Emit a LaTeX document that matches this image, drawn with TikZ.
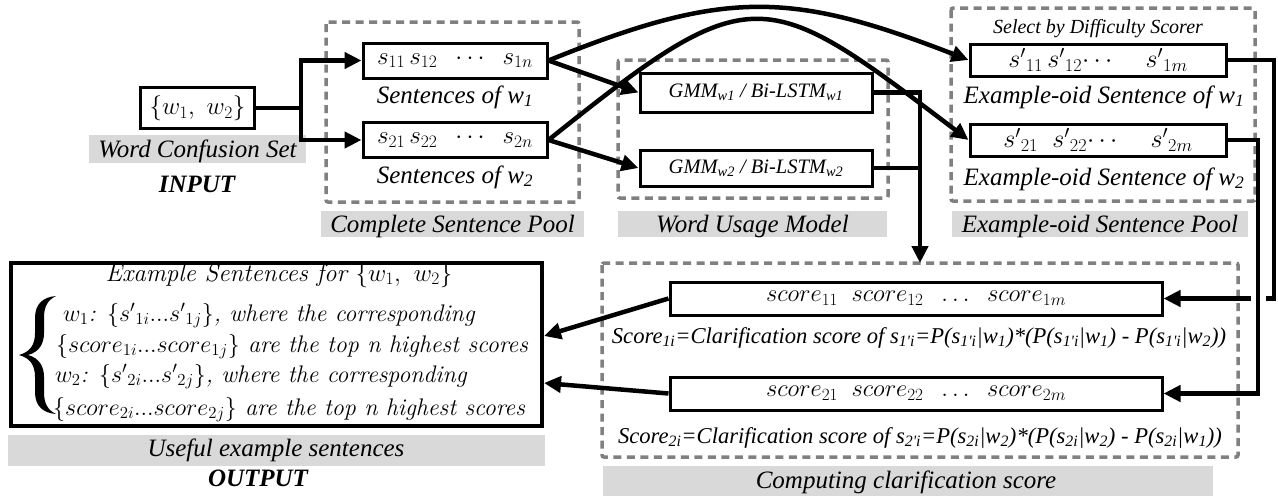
\RequirePackage{fix-cm}
\documentclass[tikz,border=0pt]{standalone}
\usepackage{fontspec}
\newfontfamily\tm{Liberation Serif}
\usetikzlibrary{arrows.meta,calc}
\definecolor{labgray}{RGB}{217,217,217}
\definecolor{dashgray}{RGB}{128,128,128}
\begin{document}
\begin{tikzpicture}[x=1pt,y=-1pt,
  box/.style={draw, line width=3pt, inner sep=0pt, fill=white},
  pool/.style={draw=dashgray, line width=3.5pt, dash pattern=on 8pt off 5.5pt, rounded corners=2pt},
  lbl/.style={inner sep=0pt, anchor=base, font=\tm\itshape\fontsize{25}{28}\selectfont},
  blbl/.style={lbl, font=\tm\bfseries\itshape\fontsize{25}{28}\selectfont},
  flbl/.style={lbl, font=\tm\itshape\fontsize{22.6}{26}\selectfont},
  otxt/.style={inner sep=0pt, anchor=base west, font=\itshape\fontsize{24}{27}\selectfont},
  mth/.style={box, font=\fontsize{25}{30}\selectfont},
  conn/.style={line width=4.5pt},
  arr/.style={conn, -{Triangle[length=17pt,width=16pt]}}]
\useasboundingbox (0,0) rectangle (1278,498);

% dashed pools
\draw[pool] (326,22) rectangle (579,202);
\draw[pool] (618,60) rectangle (888,198);
\draw[pool] (951,8) rectangle (1255,201);
\draw[pool] (602,263) rectangle (1238,457);

% gray label backgrounds
\fill[labgray] (89,135) rectangle (306,163);
\fill[labgray] (321,211) rectangle (584,237);
\fill[labgray] (618,211) rectangle (887,237);
\fill[labgray] (952,211) rectangle (1248,237);
\fill[labgray] (8,435) rectangle (545,466);
\fill[labgray] (603,466) rectangle (1213,496);

% boxes
\node[mth, minimum width=114pt, minimum height=41pt] (ws) at (197.5,108) {$\{w_1,\ w_2\}$};
\node[mth, minimum width=184pt, minimum height=35pt] (s1) at (455,60.5) {$s_{11}\,s_{12}\;\;\cdots\;\;s_{1n}$};
\node[mth, minimum width=184pt, minimum height=35pt] (s2) at (455,140) {$s_{21}\,s_{22}\;\;\cdots\;\;s_{2n}$};
\node[box, minimum width=232pt, minimum height=39pt, font=\tm\itshape\fontsize{20.5}{24}\selectfont] (g1) at (756,92.5) {GMM\textsubscript{w1} / Bi-LSTM\textsubscript{w1}};
\node[box, minimum width=232pt, minimum height=36pt, font=\tm\itshape\fontsize{20.5}{24}\selectfont] (g2) at (756,168) {GMM\textsubscript{w2} / Bi-LSTM\textsubscript{w2}};
\node[mth, minimum width=256pt, minimum height=32pt, font=\fontsize{26}{30}\selectfont] (e1) at (1098,60) {$s'{}_{11}\,s'{}_{12}{\cdots}\quad\;s'{}_{1m}$};
\node[mth, minimum width=256pt, minimum height=32pt, font=\fontsize{26}{30}\selectfont] (e2) at (1098,140) {$s'{}_{21}\;\;s'{}_{22}{\cdots}\quad\;s'{}_{2m}$};
\node[mth, minimum width=492pt, minimum height=33pt, font=\fontsize{24.5}{30}\selectfont] (c1) at (916,298.5) {$score_{11}\;\;score_{12}\;\;\ldots\;\;score_{1m}$};
\node[mth, minimum width=492pt, minimum height=33pt, font=\fontsize{24.5}{30}\selectfont] (c2) at (916,393.5) {$score_{21}\;\;score_{22}\;\;\ldots\;\;score_{2m}$};
\node[box, line width=4pt, minimum width=531pt, minimum height=163pt] (out) at (276.5,344.5) {};

% output box content
\node[otxt, anchor=base, font=\itshape\fontsize{25}{27}\selectfont\addfontfeatures{LetterSpace=17}] (ot) at (279,281) {Example\ Sentences\ for\ $\{w_1,\ w_2\}$};
\node[otxt] (l1) at (63,321) {$w_1$: $\{s'{}_{1i}...s'{}_{1j}\}$, where the corresponding};
\node[otxt] (l2) at (56,352) {$\{score_{1i}...score_{1j}\}$ are the top n highest scores};
\node[otxt] (l3) at (55,382) {$w_2$: $\{s'{}_{2i}...s'{}_{2j}\}$, where the corresponding};
\node[otxt] (l4) at (53,415) {$\{score_{2i}...score_{2j}\}$ are the top n highest scores};
% big curly brace
\fill (56,296) .. controls (43,297) and (35,304) .. (35,318) -- (35,333)
  .. controls (35,345) and (30,352) .. (19,355)
  .. controls (30,358) and (35,365) .. (35,377) -- (35,392)
  .. controls (35,406) and (43,413) .. (56,414)
  .. controls (48,410) and (44,404) .. (44,392) -- (44,377)
  .. controls (44,366) and (39,358) .. (28,355)
  .. controls (39,352) and (44,344) .. (44,333) -- (44,318)
  .. controls (44,306) and (48,300) .. (56,296) -- cycle;

% labels
\node[lbl] (wcs) at (197.5,157) {Word Confusion Set};
\node[blbl] (inp) at (197,192) {INPUT};
\node[lbl] (sl1) at (455,103) {Sentences of w\textsubscript{1}};
\node[lbl] (sl2) at (455,183) {Sentences of w\textsubscript{2}};
\node[lbl] (csp) at (452.5,232) {Complete Sentence Pool};
\node[lbl] (wum) at (752.5,232) {Word Usage Model};
\node[lbl, font=\tm\itshape\fontsize{20}{24}\selectfont] (sel) at (1098,33) {Select by Difficulty Scorer};
\node[lbl] (el1) at (1104,103) {Example-oid Sentence of w\textsubscript{1}};
\node[lbl] (el2) at (1104,185) {Example-oid Sentence of w\textsubscript{2}};
\node[lbl] (eop) at (1100,232) {Example-oid Sentence Pool};
\node[flbl] (f1) at (919,343) {Score\textsubscript{1i}=Clarification score of s\textsubscript{1'i}=P(s\textsubscript{1'i}|w\textsubscript{1})*(P(s\textsubscript{1'i}|w\textsubscript{1}) - P(s\textsubscript{1'i}|w\textsubscript{2}))};
\node[flbl] (f2) at (920,443) {Score\textsubscript{2i}=Clarification score of s\textsubscript{2'i}=P(s\textsubscript{2i}|w\textsubscript{2})*(P(s\textsubscript{2i}|w\textsubscript{2}) - P(s\textsubscript{2i}|w\textsubscript{1}))};
\node[lbl] (use) at (276,456) {Useful example sentences};
\node[blbl] (outp) at (258,486) {OUTPUT};
\node[lbl] (comp) at (906,488) {Computing clarification score};

% connectors
\coordinate (j) at (301,108);
\draw[conn] (ws.east) -- (j);
\draw[arr] (j) |- (s1.west);
\draw[arr] (j) |- (s2.west);
\draw[arr] (s1.east) -- (g1.west);
\draw[arr] (s2.east) -- (g2.west);
\coordinate (ccs) at (920,263);
\draw[arr] (g1.east) -| (ccs);
\draw[conn] (g2.east) -- (g2.east -| ccs);
\coordinate (b1) at (1274,298.5);
\coordinate (b1h) at (1266,298.5);
\coordinate (a1) at (1251,298.5);
\draw[conn] (e1.east) -| (b1) -- (b1h);
\draw[arr] (a1) -- (c1.east);
\coordinate (b2) at (1258,393.5);
\draw[arr] (e2.east) -| (b2) -- (c2.east);
\draw[arr] (c1.west) -- ($(out.east)+(0,-8.5)$);
\draw[arr] (c2.west) -- ($(out.east)+(0,38.5)$);
\draw[arr] (s1.east) .. controls (725,-11) and (791,-9) .. (e1.west);
\draw[arr] (s2.east) .. controls (753,-24) and (763,-16) .. (e2.west);
\end{tikzpicture}
\end{document}
